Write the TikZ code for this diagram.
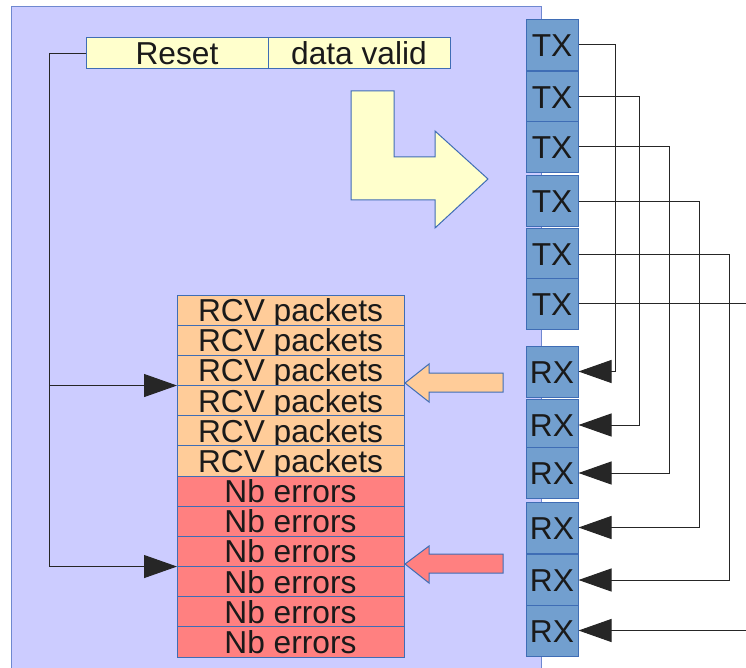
\documentclass[tikz,border=0pt]{standalone}
\usepackage{fontspec}
\setmainfont{Liberation Sans}
\usetikzlibrary{arrows.meta, positioning}

\definecolor{lavender}{HTML}{CCCCFF}
\definecolor{frameblue}{HTML}{6F88D0}
\definecolor{lemon}{HTML}{FFFFCC}
\definecolor{peach}{HTML}{FFCC99}
\definecolor{salmon}{HTML}{FF8080}
\definecolor{portblue}{HTML}{729FCF}
\definecolor{portedge}{HTML}{3F6DB5}
\definecolor{ink}{HTML}{1A1A1A}

\begin{document}
\begin{tikzpicture}[x=1pt, y=-1pt, line width=1pt, font=\fontsize{31.7}{32}\selectfont,
    cell/.style={draw=portedge, inner sep=0pt, outer sep=0pt, minimum width=227pt,
      minimum height=30.17pt, text height=23pt, text depth=0pt, text=ink},
    port/.style={draw=portedge, fill=portblue, inner sep=0pt, minimum width=52pt,
      minimum height=51pt, text height=23pt, text depth=0pt, text=ink},
    wire/.style={draw=black!85},
    bigtip/.style={-{Triangle[length=33pt, width=23pt]}}]
     \useasboundingbox (0,0) rectangle (746,668);
     \draw[draw=frameblue, fill=lavender] (11,7) rectangle (541,675);

     % control bar
     \node[cell, minimum width=182pt, minimum height=31pt, fill=lemon] (reset) at (177,53.5) {Reset};
     \node[cell, minimum width=182pt, minimum height=31pt, fill=lemon, right=0pt of reset] (valid) {data valid};
     \draw[draw=portedge, fill=lemon] (351,91) -- (394,91) -- (394,157) -- (435,157) -- (435,131)
       -- (488,179) -- (435,228) -- (435,200) -- (351,200) -- cycle;

     % counters
     \node[cell, fill=peach] (rcv1) at (290.5,310.1) {RCV packets};
     \foreach \i [remember=\i as \j (initially 1)] in {2,...,6}
       \node[cell, fill=peach, below=0pt of rcv\j] (rcv\i) {RCV packets};
     \node[cell, fill=salmon, below=0pt of rcv6] (nb1) {Nb errors};
     \foreach \i [remember=\i as \j (initially 1)] in {2,...,6}
       \node[cell, fill=salmon, below=0pt of nb\j] (nb\i) {Nb errors};

     \draw[draw=portedge, fill=peach] (405,383) -- (429,364) -- (429,373) -- (503,373)
       -- (503,392) -- (429,392) -- (429,402) -- cycle;
     \draw[draw=portedge, fill=salmon] (405,564) -- (429,546) -- (429,554) -- (503,554)
       -- (503,573) -- (429,573) -- (429,583) -- cycle;

     % ports
     \foreach \y [count=\i] in {45,97,147,201.5,254,303.5}
       \node[port] (tx\i) at (552,\y) {TX};
     \foreach \y [count=\i] in {371.5,425,473,527.5,580,630.5}
       \node[port] (rx\i) at (552,\y) {RX};

     % loopback wiring
     \foreach \i/\x in {1/615,2/639,3/669,4/699,5/729} {
       \coordinate (bend\i) at (\x,0);
       \draw[wire, bigtip] (tx\i.east) -| (bend\i |- rx\i.east) -- (rx\i.east);
     }
     \coordinate (rim) at (750,0);
     \draw[wire] (tx6.east) -- (tx6.east -| rim);
     \draw[wire, bigtip] (rx6.east -| rim) -- (rx6.east);

     \coordinate (trunk) at (49,0);
     \draw[wire, bigtip] (reset.west) -| (trunk |- nb3.south west) -- (nb3.south west);
     \draw[wire, bigtip] (trunk |- rcv3.south west) -- (rcv3.south west);
\end{tikzpicture}
\end{document}
